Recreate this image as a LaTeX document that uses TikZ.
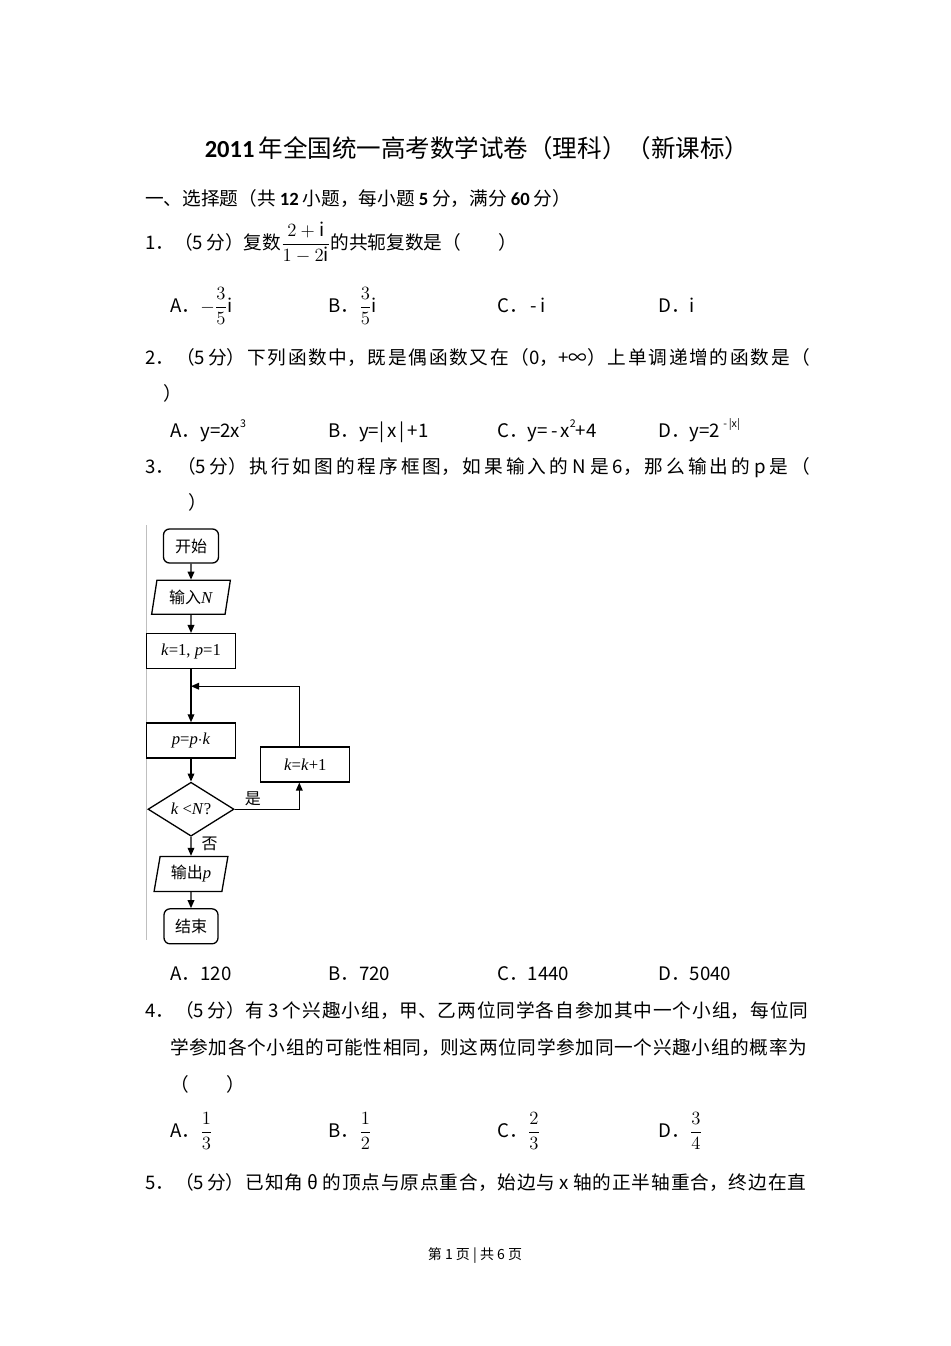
\RequirePackage{fix-cm}
\documentclass[tikz,border=0pt]{standalone}
\usepackage{fontspec}
\setmainfont{Noto Sans CJK SC}
\newfontfamily\calfont{Carlito}
\newfontfamily\tmsfont{Liberation Serif}
\usetikzlibrary{positioning,arrows.meta,shapes.geometric,calc}

\newlength\px
\setlength\px{0.75pt}
\XeTeXlinebreaklocale "zh"
\XeTeXlinebreakskip=0pt plus 1fil
\newcommand\fullline[2]{\parbox[t]{#1}{\parfillskip=0pt\relax #2}}
\newcommand\num[1]{\hspace{4\px}{\calfont\bfseries #1}\hspace{4\px}}
\newcommand\fm[1]{{\tmsfont\fontsize{12.5pt}{14pt}\selectfont #1}}
\newcommand\dfr[2]{{\displaystyle\frac{#1}{#2}}}
\newcommand\sups[1]{\raisebox{0.5em}{\fontsize{8pt}{9pt}\selectfont #1}}

\begin{document}
\begin{tikzpicture}[x=0.75pt, y=-0.75pt, >={Triangle[length=6pt,width=5pt]},
  txt/.style={anchor=west, inner sep=0pt, text height=14\px, text depth=0pt, font=\fontsize{14pt}{16pt}\selectfont},
  base/.style={draw, line width=1.3\px, inner sep=0pt, align=center, font=\fontsize{12pt}{14pt}\selectfont},
  term/.style={base, rounded corners=6\px, minimum width=55\px, minimum height=34\px},
  io/.style={base, trapezium, trapezium left angle=77, trapezium right angle=103, trapezium stretches=true, minimum width=79\px, minimum height=34\px},
  proc/.style={base, minimum width=89\px, minimum height=35\px},
  cond/.style={base, diamond, aspect=1.6, minimum width=86\px, minimum height=54\px},
  link/.style={line width=1.3\px},
  lbl/.style={inner sep=0pt, font=\fontsize{12pt}{14pt}\selectfont}]
  \useasboundingbox (0,0) rectangle (950,1346);
  \fill[white] (0,0) rectangle (950,1346);

  % heading
  \node[inner sep=0pt, font=\fontsize{18.4pt}{20pt}\selectfont] (title) at (477,148) {{\calfont\bfseries 2011}\,年全国统一高考数学试卷（理科）（新课标）};
  \node[txt] (sec) at (145,198) {一、选择题（共\num{12}小题，每小题\num{5}分，满分\num{60}分）};

  % question 1
  \node[txt] (q1) at (145,242) {1．（5\,分）复数$\dfr{2+\mathrm{i}}{1-2\mathrm{i}}$的共轭复数是（　　）};
  \node[txt] (q1a) at (170,305) {A．$-\dfr{3}{5}\mathrm{i}$};
  \node[txt] (q1b) at (328,305) {B．$\dfr{3}{5}\mathrm{i}$};
  \node[txt] (q1c) at (497,305) {C．\,-\,i};
  \node[txt] (q1d) at (658,305) {D．i};

  % question 2
  \node[txt] (q2) at (145,357) {\fullline{665\px}{2．（5\,分）下列函数中，既是偶函数又在（0，+∞）上单调递增的函数是（}};
  \node[txt] (q2end) at (163,393) {）};
  \node[txt] (q2a) at (170,430) {A．y=2x\sups{3}};
  \node[txt] (q2b) at (328,430) {B．y=|\,x\,|\,+1};
  \node[txt] (q2c) at (497,430) {C．y=\,-\,x\sups{2}+4};
  \node[txt] (q2d) at (658,430) {D．y=2\,\sups{-\,|x|}};

  % question 3
  \node[txt] (q3) at (145,466) {\fullline{665\px}{3．（5\,分）执行如图的程序框图，如果输入的 N 是 6，那么输出的 p 是（}};
  \node[txt] (q3end) at (188,502) {）};

  % flow chart
  \draw[black!25, line width=1\px] (146,525) -- (146,940);
  \node[term] (start) at (191,546) {开始};
  \node[io, below=16\px of start] (input) {输入\fm{\textit{N}}};
  \node[proc, below=18\px of input] (init) {\fm{\textit{k}=1, \textit{p}=1}};
  \node[proc, below=53\px of init] (body) {\fm{\textit{p}=\textit{p}$\cdot$\textit{k}}};
  \node[proc, right=24\px of body, yshift=-24\px] (incr) {\fm{\textit{k}=\textit{k}+1}};
  \node[cond, below=23\px of body] (test) {\fm{\textit{k} <\textit{N}?}};
  \node[io, below=19\px of test, minimum width=74\px, minimum height=35\px] (output) {输出\fm{\textit{p}}};
  \node[term, below=16\px of output, minimum width=54\px, minimum height=35\px] (stop) {结束};
  \coordinate (join) at ($(init.south)!0.32!(body.north)$);

  \draw[link,->] (start) -- (input);
  \draw[link,->] (input) -- (init);
  \draw[link,->] (init) -- (body);
  \draw[link,->] (body) -- (test);
  \draw[link,->] (test) -- node[lbl, pos=0.35, right=10\px] {否} (output);
  \draw[link,->] (output) -- (stop);
  \draw[link,->] (test.east) -| node[lbl, pos=0.14, above=3\px] {是} ($(incr.south)+(-6,0)$);
  \draw[link,->] ($(incr.north)+(-6,0)$) |- (join);

  \node[txt] (q3a) at (170,973) {A．120};
  \node[txt] (q3b) at (328,973) {B．720};
  \node[txt] (q3c) at (497,973) {C．1440};
  \node[txt] (q3d) at (658,973) {D．5040};

  % question 4
  \node[txt] (q4) at (145,1010) {\fullline{663\px}{4．（5\,分）有 3 个兴趣小组，甲、乙两位同学各自参加其中一个小组，每位同}};
  \node[txt] (q4l2) at (170,1047) {\fullline{637\px}{学参加各个小组的可能性相同，则这两位同学参加同一个兴趣小组的概率为}};
  \node[txt] (q4l3) at (170,1084) {（　　）};
  \node[txt] (q4a) at (170,1130) {A．$\dfr{1}{3}$};
  \node[txt] (q4b) at (328,1130) {B．$\dfr{1}{2}$};
  \node[txt] (q4c) at (497,1130) {C．$\dfr{2}{3}$};
  \node[txt] (q4d) at (658,1130) {D．$\dfr{3}{4}$};

  % question 5
  \node[txt] (q5) at (145,1182) {\fullline{661\px}{5．（5\,分）已知角 θ 的顶点与原点重合，始边与 x 轴的正半轴重合，终边在直}};

  % footer
  \node[inner sep=0pt, font=\fontsize{10.5pt}{12pt}\selectfont] (foot) at (475,1256) {第 1 页 | 共 6 页};
\end{tikzpicture}
\end{document}
